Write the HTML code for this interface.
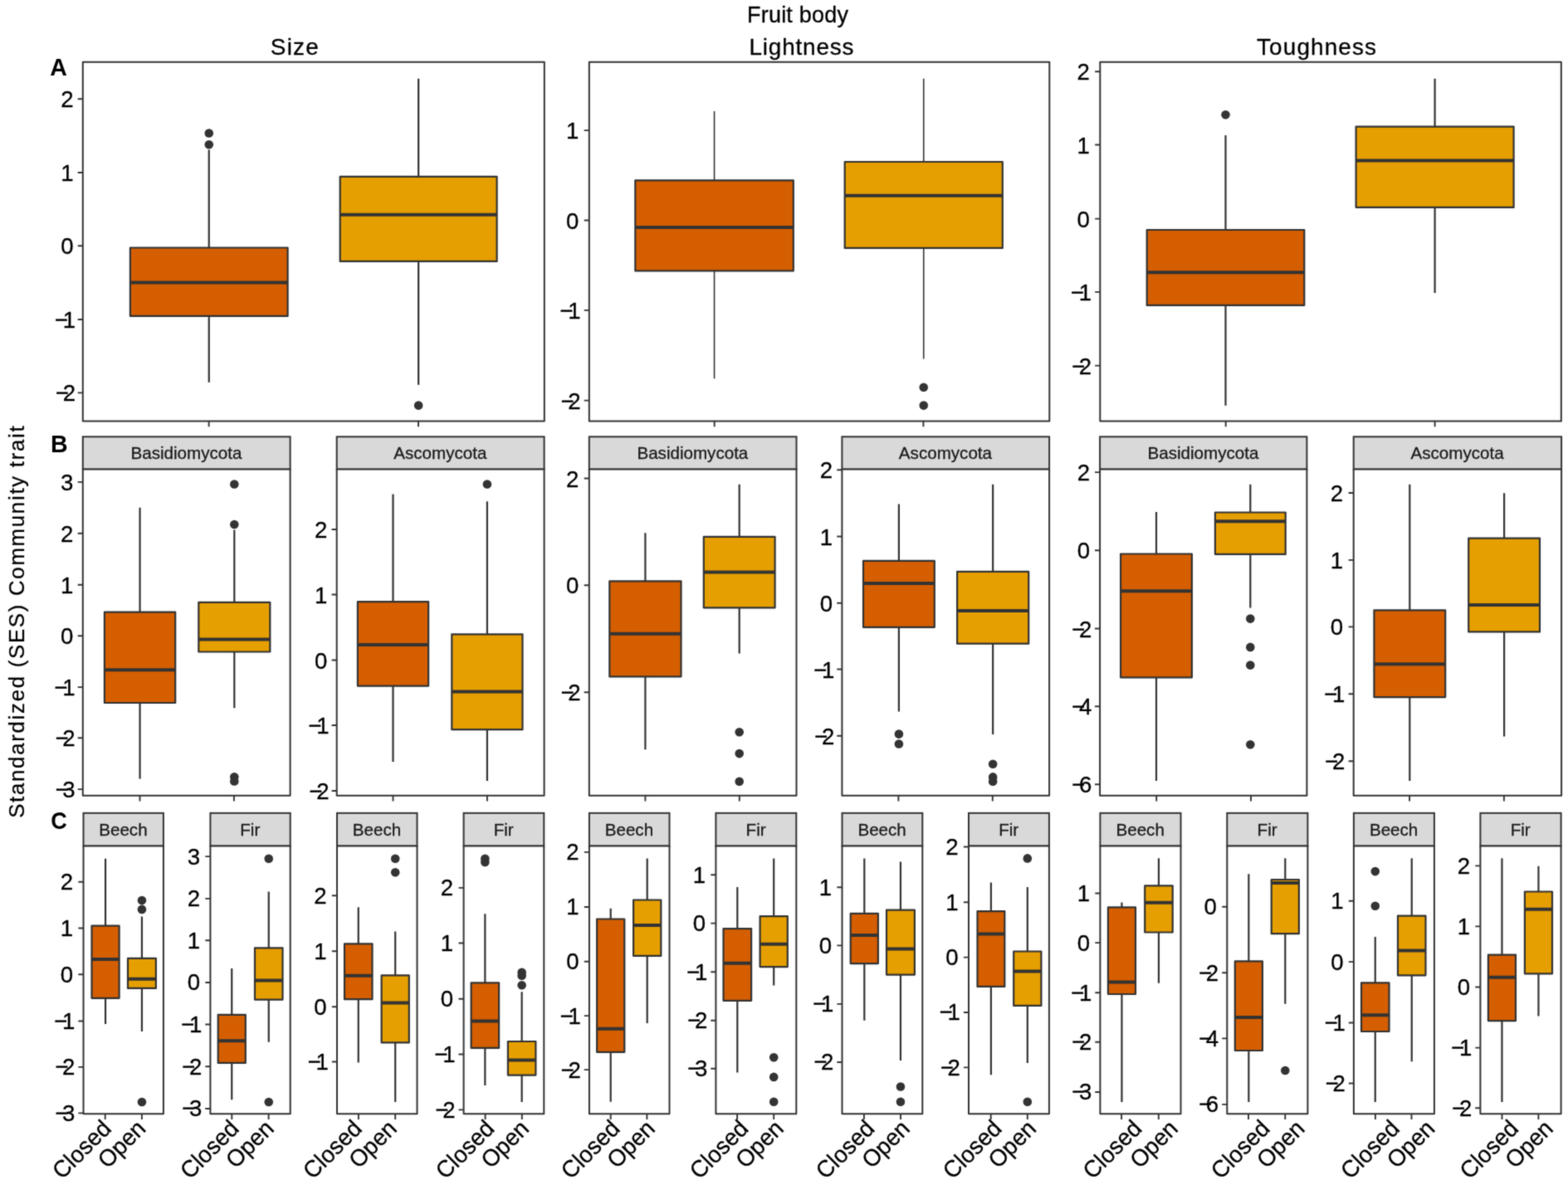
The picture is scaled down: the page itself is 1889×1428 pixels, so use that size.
<!DOCTYPE html>
<html lang="en">
<head>
<meta charset="utf-8">
<title>Fruit body traits: Size, Lightness, Toughness</title>
<style>
html,body{margin:0;padding:0;background:#fff;}
body{width:1889px;height:1428px;overflow:hidden;}
svg{display:block;font-family:'Liberation Sans', 'Arial', 'Helvetica', sans-serif;}
</style>
</head>
<body>
<svg width="1889" height="1428" viewBox="0 0 1889 1428" role="img" aria-label="Boxplots of standardized community traits">
<defs>
<filter id="soft" x="0" y="0" width="1889" height="1428" filterUnits="userSpaceOnUse" color-interpolation-filters="sRGB">
<feConvolveMatrix order="3" kernelMatrix="1 4 1 4 16 4 1 4 1" divisor="36" bias="0" edgeMode="duplicate" preserveAlpha="true"/>
</filter>
</defs>
<g filter="url(#soft)">
<rect x="0" y="0" width="1889" height="1428" fill="#fff"/>
<g transform="translate(0.3 0.5)">
<g>
<rect x="99.5" y="74.2" width="556" height="432.8" fill="#fff" stroke="none"/>
<path d="M251.45 180V298M251.45 380.4V460.2" stroke="#333333" stroke-width="2.2" fill="none"/>
<rect x="156.6" y="298" width="189.7" height="82.4" fill="#D55E00" stroke="#333333" stroke-width="2.2" stroke-linejoin="round"/>
<path d="M156.6 340H346.3" stroke="#333333" stroke-width="4" fill="none"/>
<circle cx="251.45" cy="160" r="5.3" fill="#333333"/>
<circle cx="251.45" cy="173.7" r="5.3" fill="#333333"/>
<path d="M503.85 94.3V212.3M503.85 314.4V463.2" stroke="#333333" stroke-width="2.2" fill="none"/>
<rect x="409.4" y="212.3" width="188.9" height="102.1" fill="#E69F00" stroke="#333333" stroke-width="2.2" stroke-linejoin="round"/>
<path d="M409.4 258.3H598.3" stroke="#333333" stroke-width="4" fill="none"/>
<circle cx="503.85" cy="488.1" r="5.3" fill="#333333"/>
<rect x="99.5" y="74.2" width="556" height="432.8" fill="none" stroke="#333333" stroke-width="2" stroke-linejoin="round"/>
<path d="M93.4 118.8H99.5M93.4 207.5H99.5M93.4 295.8H99.5M93.4 384.5H99.5M93.4 472.9H99.5M251.3 507V513.8M503.7 507V513.8" stroke="#333333" stroke-width="1.9" fill="none"/>
<text transform="translate(88.4 128.83) scale(1 1.03)" font-size="27.6" text-anchor="end" fill="#000" stroke="#000" stroke-width="0.3">2</text>
<text transform="translate(88.4 217.53) scale(1 1.03)" font-size="27.6" text-anchor="end" fill="#000" stroke="#000" stroke-width="0.3">1</text>
<text transform="translate(88.4 305.83) scale(1 1.03)" font-size="27.6" text-anchor="end" fill="#000" stroke="#000" stroke-width="0.3">0</text>
<text transform="translate(90.7 394.53) scale(1 1.03)" font-size="27.6" text-anchor="end" fill="#000" stroke="#000" stroke-width="0.3">−<tspan dx="-6.35">1</tspan></text>
<text transform="translate(90.7 482.93) scale(1 1.03)" font-size="27.6" text-anchor="end" fill="#000" stroke="#000" stroke-width="0.3">−<tspan dx="-7.45">2</tspan></text>
</g>
<g>
<rect x="709.5" y="74.2" width="554.5" height="432.8" fill="#fff" stroke="none"/>
<path d="M860.25 133.6V216.8M860.25 325.9V455.8" stroke="#333333" stroke-width="1.6" fill="none"/>
<rect x="765" y="216.8" width="190.5" height="109.1" fill="#D55E00" stroke="#333333" stroke-width="2.2" stroke-linejoin="round"/>
<path d="M765 273.5H955.5" stroke="#333333" stroke-width="4" fill="none"/>
<path d="M1112.45 94.3V194.5M1112.45 298.4V432" stroke="#333333" stroke-width="1.6" fill="none"/>
<rect x="1017.4" y="194.5" width="190.1" height="103.9" fill="#E69F00" stroke="#333333" stroke-width="2.2" stroke-linejoin="round"/>
<path d="M1017.4 235.3H1207.5" stroke="#333333" stroke-width="4" fill="none"/>
<circle cx="1112.45" cy="466.2" r="5.3" fill="#333333"/>
<circle cx="1112.45" cy="488.1" r="5.3" fill="#333333"/>
<rect x="709.5" y="74.2" width="554.5" height="432.8" fill="none" stroke="#333333" stroke-width="2" stroke-linejoin="round"/>
<path d="M703.4 156.6H709.5M703.4 265H709.5M703.4 373.4H709.5M703.4 482.1H709.5M860.4 507V513.8M1112.1 507V513.8" stroke="#333333" stroke-width="1.9" fill="none"/>
<text transform="translate(697.1 166.63) scale(1 1.03)" font-size="27.6" text-anchor="end" fill="#000" stroke="#000" stroke-width="0.3">1</text>
<text transform="translate(697.1 275.03) scale(1 1.03)" font-size="27.6" text-anchor="end" fill="#000" stroke="#000" stroke-width="0.3">0</text>
<text transform="translate(699.4 383.43) scale(1 1.03)" font-size="27.6" text-anchor="end" fill="#000" stroke="#000" stroke-width="0.3">−<tspan dx="-6.35">1</tspan></text>
<text transform="translate(699.4 492.13) scale(1 1.03)" font-size="27.6" text-anchor="end" fill="#000" stroke="#000" stroke-width="0.3">−<tspan dx="-7.45">2</tspan></text>
</g>
<g>
<rect x="1325" y="74.2" width="555.5" height="432.8" fill="#fff" stroke="none"/>
<path d="M1476.2 162.5V276.5M1476.2 367.4V488.3" stroke="#333333" stroke-width="2.2" fill="none"/>
<rect x="1381.4" y="276.5" width="189.6" height="90.9" fill="#D55E00" stroke="#333333" stroke-width="2.2" stroke-linejoin="round"/>
<path d="M1381.4 327.7H1571" stroke="#333333" stroke-width="4" fill="none"/>
<circle cx="1476.2" cy="137.7" r="5.3" fill="#333333"/>
<path d="M1728.3 94.3V152.1M1728.3 249.4V352.5" stroke="#333333" stroke-width="2.2" fill="none"/>
<rect x="1633.3" y="152.1" width="190" height="97.3" fill="#E69F00" stroke="#333333" stroke-width="2.2" stroke-linejoin="round"/>
<path d="M1633.3 193H1823.3" stroke="#333333" stroke-width="4" fill="none"/>
<rect x="1325" y="74.2" width="555.5" height="432.8" fill="none" stroke="#333333" stroke-width="2" stroke-linejoin="round"/>
<path d="M1318.9 85.7H1325M1318.9 174H1325M1318.9 263.1H1325M1318.9 351.4H1325M1318.9 440.1H1325M1476.4 507V513.8M1728.3 507V513.8" stroke="#333333" stroke-width="1.9" fill="none"/>
<text transform="translate(1312.6 95.73) scale(1 1.03)" font-size="27.6" text-anchor="end" fill="#000" stroke="#000" stroke-width="0.3">2</text>
<text transform="translate(1312.6 184.03) scale(1 1.03)" font-size="27.6" text-anchor="end" fill="#000" stroke="#000" stroke-width="0.3">1</text>
<text transform="translate(1312.6 273.13) scale(1 1.03)" font-size="27.6" text-anchor="end" fill="#000" stroke="#000" stroke-width="0.3">0</text>
<text transform="translate(1314.9 361.43) scale(1 1.03)" font-size="27.6" text-anchor="end" fill="#000" stroke="#000" stroke-width="0.3">−<tspan dx="-6.35">1</tspan></text>
<text transform="translate(1314.9 450.13) scale(1 1.03)" font-size="27.6" text-anchor="end" fill="#000" stroke="#000" stroke-width="0.3">−<tspan dx="-7.45">2</tspan></text>
</g>
<g>
<rect x="99.5" y="525.8" width="249.8" height="39.2" fill="#D9D9D9" stroke="#333333" stroke-width="2"/>
<text transform="translate(224.1 552.82)" font-size="20.6" text-anchor="middle" fill="#1A1A1A" stroke="#1A1A1A" stroke-width="0.3">Basidiomycota</text>
<rect x="99.5" y="565" width="249.8" height="393.2" fill="#fff" stroke="none"/>
<path d="M168.25 611.2V737.2M168.25 846.5V938" stroke="#333333" stroke-width="2.2" fill="none"/>
<rect x="125.6" y="737.2" width="85.3" height="109.3" fill="#D55E00" stroke="#333333" stroke-width="2.2" stroke-linejoin="round"/>
<path d="M125.6 806.8H210.9" stroke="#333333" stroke-width="4" fill="none"/>
<path d="M282 638V725.3M282 785V852.8" stroke="#333333" stroke-width="2.2" fill="none"/>
<rect x="239" y="725.3" width="86" height="59.7" fill="#E69F00" stroke="#333333" stroke-width="2.2" stroke-linejoin="round"/>
<path d="M239 770.1H325" stroke="#333333" stroke-width="4" fill="none"/>
<circle cx="282" cy="583" r="5.3" fill="#333333"/>
<circle cx="282" cy="631.5" r="5.3" fill="#333333"/>
<circle cx="282" cy="935.8" r="5.3" fill="#333333"/>
<circle cx="282" cy="941" r="5.3" fill="#333333"/>
<rect x="99.5" y="565" width="249.8" height="393.2" fill="none" stroke="#333333" stroke-width="2" stroke-linejoin="round"/>
<path d="M93.4 580.4H99.5M93.4 642.3H99.5M93.4 704.2H99.5M93.4 765.7H99.5M93.4 827.6H99.5M93.4 888.7H99.5M93.4 950.6H99.5M168.2 958.2V965M281.6 958.2V965" stroke="#333333" stroke-width="1.9" fill="none"/>
<text transform="translate(88.1 590.43) scale(1 1.03)" font-size="27.6" text-anchor="end" fill="#000" stroke="#000" stroke-width="0.3">3</text>
<text transform="translate(88.1 652.33) scale(1 1.03)" font-size="27.6" text-anchor="end" fill="#000" stroke="#000" stroke-width="0.3">2</text>
<text transform="translate(88.1 714.23) scale(1 1.03)" font-size="27.6" text-anchor="end" fill="#000" stroke="#000" stroke-width="0.3">1</text>
<text transform="translate(88.1 775.73) scale(1 1.03)" font-size="27.6" text-anchor="end" fill="#000" stroke="#000" stroke-width="0.3">0</text>
<text transform="translate(90.4 837.63) scale(1 1.03)" font-size="27.6" text-anchor="end" fill="#000" stroke="#000" stroke-width="0.3">−<tspan dx="-6.35">1</tspan></text>
<text transform="translate(90.4 898.73) scale(1 1.03)" font-size="27.6" text-anchor="end" fill="#000" stroke="#000" stroke-width="0.3">−<tspan dx="-7.45">2</tspan></text>
<text transform="translate(90.4 960.63) scale(1 1.03)" font-size="27.6" text-anchor="end" fill="#000" stroke="#000" stroke-width="0.3">−<tspan dx="-7.45">3</tspan></text>
</g>
<g>
<rect x="405.4" y="525.8" width="249.9" height="39.2" fill="#D9D9D9" stroke="#333333" stroke-width="2"/>
<text transform="translate(530.05 552.82)" font-size="20.6" text-anchor="middle" fill="#1A1A1A" stroke="#1A1A1A" stroke-width="0.3">Ascomycota</text>
<rect x="405.4" y="565" width="249.9" height="393.2" fill="#fff" stroke="none"/>
<path d="M473.2 594.9V724.6M473.2 826.1V917.6" stroke="#333333" stroke-width="2.2" fill="none"/>
<rect x="430.6" y="724.6" width="85.2" height="101.5" fill="#D55E00" stroke="#333333" stroke-width="2.2" stroke-linejoin="round"/>
<path d="M430.6 776.4H515.8" stroke="#333333" stroke-width="4" fill="none"/>
<path d="M586.6 603.8V763.8M586.6 878.7V940.6" stroke="#333333" stroke-width="2.2" fill="none"/>
<rect x="544" y="763.8" width="85.2" height="114.9" fill="#E69F00" stroke="#333333" stroke-width="2.2" stroke-linejoin="round"/>
<path d="M544 833.1H629.2" stroke="#333333" stroke-width="4" fill="none"/>
<circle cx="586.6" cy="583" r="5.3" fill="#333333"/>
<rect x="405.4" y="565" width="249.9" height="393.2" fill="none" stroke="#333333" stroke-width="2" stroke-linejoin="round"/>
<path d="M399.3 637.5H405.4M399.3 716H405.4M399.3 795H405.4M399.3 873.5H405.4M399.3 952.5H405.4M473.2 958.2V965M586.6 958.2V965" stroke="#333333" stroke-width="1.9" fill="none"/>
<text transform="translate(394 647.53) scale(1 1.03)" font-size="27.6" text-anchor="end" fill="#000" stroke="#000" stroke-width="0.3">2</text>
<text transform="translate(394 726.03) scale(1 1.03)" font-size="27.6" text-anchor="end" fill="#000" stroke="#000" stroke-width="0.3">1</text>
<text transform="translate(394 805.03) scale(1 1.03)" font-size="27.6" text-anchor="end" fill="#000" stroke="#000" stroke-width="0.3">0</text>
<text transform="translate(396.3 883.53) scale(1 1.03)" font-size="27.6" text-anchor="end" fill="#000" stroke="#000" stroke-width="0.3">−<tspan dx="-6.35">1</tspan></text>
<text transform="translate(396.3 962.53) scale(1 1.03)" font-size="27.6" text-anchor="end" fill="#000" stroke="#000" stroke-width="0.3">−<tspan dx="-7.45">2</tspan></text>
</g>
<g>
<rect x="709.5" y="525.8" width="249.7" height="39.2" fill="#D9D9D9" stroke="#333333" stroke-width="2"/>
<text transform="translate(834.05 552.82)" font-size="20.6" text-anchor="middle" fill="#1A1A1A" stroke="#1A1A1A" stroke-width="0.3">Basidiomycota</text>
<rect x="709.5" y="565" width="249.7" height="393.2" fill="#fff" stroke="none"/>
<path d="M777.1 641.8V699.9M777.1 814.8V902.7" stroke="#333333" stroke-width="2.2" fill="none"/>
<rect x="734" y="699.9" width="86.2" height="114.9" fill="#D55E00" stroke="#333333" stroke-width="2.2" stroke-linejoin="round"/>
<path d="M734 763.3H820.2" stroke="#333333" stroke-width="4" fill="none"/>
<path d="M890.4 583.3V646.4M890.4 731.8V787.1" stroke="#333333" stroke-width="2.2" fill="none"/>
<rect x="847.5" y="646.4" width="85.8" height="85.4" fill="#E69F00" stroke="#333333" stroke-width="2.2" stroke-linejoin="round"/>
<path d="M847.5 689.1H933.3" stroke="#333333" stroke-width="4" fill="none"/>
<circle cx="890.4" cy="881.7" r="5.3" fill="#333333"/>
<circle cx="890.4" cy="907.6" r="5.3" fill="#333333"/>
<circle cx="890.4" cy="941.2" r="5.3" fill="#333333"/>
<rect x="709.5" y="565" width="249.7" height="393.2" fill="none" stroke="#333333" stroke-width="2" stroke-linejoin="round"/>
<path d="M703.4 576H709.5M703.4 704.8H709.5M703.4 833.7H709.5M777.1 958.2V965M890.5 958.2V965" stroke="#333333" stroke-width="1.9" fill="none"/>
<text transform="translate(697.1 586.03) scale(1 1.03)" font-size="27.6" text-anchor="end" fill="#000" stroke="#000" stroke-width="0.3">2</text>
<text transform="translate(697.1 714.83) scale(1 1.03)" font-size="27.6" text-anchor="end" fill="#000" stroke="#000" stroke-width="0.3">0</text>
<text transform="translate(699.4 843.73) scale(1 1.03)" font-size="27.6" text-anchor="end" fill="#000" stroke="#000" stroke-width="0.3">−<tspan dx="-7.45">2</tspan></text>
</g>
<g>
<rect x="1014.1" y="525.8" width="249.7" height="39.2" fill="#D9D9D9" stroke="#333333" stroke-width="2"/>
<text transform="translate(1138.65 552.82)" font-size="20.6" text-anchor="middle" fill="#1A1A1A" stroke="#1A1A1A" stroke-width="0.3">Ascomycota</text>
<rect x="1014.1" y="565" width="249.7" height="393.2" fill="#fff" stroke="none"/>
<path d="M1082.6 607.1V675.4M1082.6 755.3V857.1" stroke="#333333" stroke-width="2.2" fill="none"/>
<rect x="1039.7" y="675.4" width="85.8" height="79.9" fill="#D55E00" stroke="#333333" stroke-width="2.2" stroke-linejoin="round"/>
<path d="M1039.7 702.4H1125.5" stroke="#333333" stroke-width="4" fill="none"/>
<circle cx="1082.6" cy="884.1" r="5.3" fill="#333333"/>
<circle cx="1082.6" cy="896" r="5.3" fill="#333333"/>
<path d="M1195.85 583.3V688.4M1195.85 775.2V884.5" stroke="#333333" stroke-width="2.2" fill="none"/>
<rect x="1152.8" y="688.4" width="86.1" height="86.8" fill="#E69F00" stroke="#333333" stroke-width="2.2" stroke-linejoin="round"/>
<path d="M1152.8 735.6H1238.9" stroke="#333333" stroke-width="4" fill="none"/>
<circle cx="1195.85" cy="920.2" r="5.3" fill="#333333"/>
<circle cx="1195.85" cy="935.9" r="5.3" fill="#333333"/>
<circle cx="1195.85" cy="941.2" r="5.3" fill="#333333"/>
<rect x="1014.1" y="565" width="249.7" height="393.2" fill="none" stroke="#333333" stroke-width="2" stroke-linejoin="round"/>
<path d="M1008 565.8H1014.1M1008 646H1014.1M1008 726.2H1014.1M1008 806H1014.1M1008 886.2H1014.1M1082.1 958.2V965M1195.5 958.2V965" stroke="#333333" stroke-width="1.9" fill="none"/>
<text transform="translate(1002.7 575.83) scale(1 1.03)" font-size="27.6" text-anchor="end" fill="#000" stroke="#000" stroke-width="0.3">2</text>
<text transform="translate(1002.7 656.03) scale(1 1.03)" font-size="27.6" text-anchor="end" fill="#000" stroke="#000" stroke-width="0.3">1</text>
<text transform="translate(1002.7 736.23) scale(1 1.03)" font-size="27.6" text-anchor="end" fill="#000" stroke="#000" stroke-width="0.3">0</text>
<text transform="translate(1005 816.03) scale(1 1.03)" font-size="27.6" text-anchor="end" fill="#000" stroke="#000" stroke-width="0.3">−<tspan dx="-6.35">1</tspan></text>
<text transform="translate(1005 896.23) scale(1 1.03)" font-size="27.6" text-anchor="end" fill="#000" stroke="#000" stroke-width="0.3">−<tspan dx="-7.45">2</tspan></text>
</g>
<g>
<rect x="1324.8" y="525.8" width="249.3" height="39.2" fill="#D9D9D9" stroke="#333333" stroke-width="2"/>
<text transform="translate(1449.15 552.82)" font-size="20.6" text-anchor="middle" fill="#1A1A1A" stroke="#1A1A1A" stroke-width="0.3">Basidiomycota</text>
<rect x="1324.8" y="565" width="249.3" height="393.2" fill="#fff" stroke="none"/>
<path d="M1392.7 616.6V667M1392.7 815.8V940.5" stroke="#333333" stroke-width="2.2" fill="none"/>
<rect x="1349.8" y="667" width="85.8" height="148.8" fill="#D55E00" stroke="#333333" stroke-width="2.2" stroke-linejoin="round"/>
<path d="M1349.8 711.8H1435.6" stroke="#333333" stroke-width="4" fill="none"/>
<path d="M1506 583.3V617M1506 667.4V732.1" stroke="#333333" stroke-width="2.2" fill="none"/>
<rect x="1463.6" y="617" width="84.8" height="50.4" fill="#E69F00" stroke="#333333" stroke-width="2.2" stroke-linejoin="round"/>
<path d="M1463.6 627.8H1548.4" stroke="#333333" stroke-width="4" fill="none"/>
<circle cx="1506" cy="745.1" r="5.3" fill="#333333"/>
<circle cx="1506" cy="779.4" r="5.3" fill="#333333"/>
<circle cx="1506" cy="801.1" r="5.3" fill="#333333"/>
<circle cx="1506" cy="896.7" r="5.3" fill="#333333"/>
<rect x="1324.8" y="565" width="249.3" height="393.2" fill="none" stroke="#333333" stroke-width="2" stroke-linejoin="round"/>
<path d="M1318.7 568.6H1324.8M1318.7 662.8H1324.8M1318.7 757H1324.8M1318.7 850.8H1324.8M1318.7 944.7H1324.8M1392.9 958.2V965M1506.7 958.2V965" stroke="#333333" stroke-width="1.9" fill="none"/>
<text transform="translate(1312.7 578.63) scale(1 1.03)" font-size="27.6" text-anchor="end" fill="#000" stroke="#000" stroke-width="0.3">2</text>
<text transform="translate(1312.7 672.83) scale(1 1.03)" font-size="27.6" text-anchor="end" fill="#000" stroke="#000" stroke-width="0.3">0</text>
<text transform="translate(1315 767.03) scale(1 1.03)" font-size="27.6" text-anchor="end" fill="#000" stroke="#000" stroke-width="0.3">−<tspan dx="-7.45">2</tspan></text>
<text transform="translate(1315 860.83) scale(1 1.03)" font-size="27.6" text-anchor="end" fill="#000" stroke="#000" stroke-width="0.3">−<tspan dx="-7.45">4</tspan></text>
<text transform="translate(1315 954.73) scale(1 1.03)" font-size="27.6" text-anchor="end" fill="#000" stroke="#000" stroke-width="0.3">−<tspan dx="-7.45">6</tspan></text>
</g>
<g>
<rect x="1630.4" y="525.8" width="250.4" height="39.2" fill="#D9D9D9" stroke="#333333" stroke-width="2"/>
<text transform="translate(1755.3 552.82)" font-size="20.6" text-anchor="middle" fill="#1A1A1A" stroke="#1A1A1A" stroke-width="0.3">Ascomycota</text>
<rect x="1630.4" y="565" width="250.4" height="393.2" fill="#fff" stroke="none"/>
<path d="M1698 583.3V734.9M1698 839.6V940.5" stroke="#333333" stroke-width="2.2" fill="none"/>
<rect x="1655.1" y="734.9" width="85.8" height="104.7" fill="#D55E00" stroke="#333333" stroke-width="2.2" stroke-linejoin="round"/>
<path d="M1655.1 799.7H1740.9" stroke="#333333" stroke-width="4" fill="none"/>
<path d="M1811.8 593.8V648.1M1811.8 760.9V886.9" stroke="#333333" stroke-width="2.2" fill="none"/>
<rect x="1768.9" y="648.1" width="85.8" height="112.8" fill="#E69F00" stroke="#333333" stroke-width="2.2" stroke-linejoin="round"/>
<path d="M1768.9 728.6H1854.7" stroke="#333333" stroke-width="4" fill="none"/>
<rect x="1630.4" y="565" width="250.4" height="393.2" fill="none" stroke="#333333" stroke-width="2" stroke-linejoin="round"/>
<path d="M1624.3 593.5H1630.4M1624.3 674.4H1630.4M1624.3 754.9H1630.4M1624.3 835.8H1630.4M1624.3 916.7H1630.4M1697.8 958.2V965M1811.6 958.2V965" stroke="#333333" stroke-width="1.9" fill="none"/>
<text transform="translate(1617.7 603.53) scale(1 1.03)" font-size="27.6" text-anchor="end" fill="#000" stroke="#000" stroke-width="0.3">2</text>
<text transform="translate(1617.7 684.43) scale(1 1.03)" font-size="27.6" text-anchor="end" fill="#000" stroke="#000" stroke-width="0.3">1</text>
<text transform="translate(1617.7 764.93) scale(1 1.03)" font-size="27.6" text-anchor="end" fill="#000" stroke="#000" stroke-width="0.3">0</text>
<text transform="translate(1620 845.83) scale(1 1.03)" font-size="27.6" text-anchor="end" fill="#000" stroke="#000" stroke-width="0.3">−<tspan dx="-6.35">1</tspan></text>
<text transform="translate(1620 926.73) scale(1 1.03)" font-size="27.6" text-anchor="end" fill="#000" stroke="#000" stroke-width="0.3">−<tspan dx="-7.45">2</tspan></text>
</g>
<g>
<rect x="100.2" y="979.3" width="96.4" height="39.7" fill="#D9D9D9" stroke="#333333" stroke-width="2"/>
<text transform="translate(148.1 1006.57)" font-size="20.6" text-anchor="middle" fill="#1A1A1A" stroke="#1A1A1A" stroke-width="0.3">Beech</text>
<rect x="100.2" y="1019" width="96.4" height="322.7" fill="#fff" stroke="none"/>
<path d="M126.75 1034.2V1115.2M126.75 1202.3V1233.6" stroke="#333333" stroke-width="2.2" fill="none"/>
<rect x="110.2" y="1115.2" width="33.1" height="87.1" fill="#D55E00" stroke="#333333" stroke-width="2.2" stroke-linejoin="round"/>
<path d="M110.2 1155.5H143.3" stroke="#333333" stroke-width="4" fill="none"/>
<path d="M170.65 1104V1154.4M170.65 1190.4V1242.6" stroke="#333333" stroke-width="2.2" fill="none"/>
<rect x="153.7" y="1154.4" width="33.9" height="36" fill="#E69F00" stroke="#333333" stroke-width="2.2" stroke-linejoin="round"/>
<path d="M153.7 1179.2H187.6" stroke="#333333" stroke-width="4" fill="none"/>
<circle cx="170.65" cy="1084.6" r="5.3" fill="#333333"/>
<circle cx="170.65" cy="1095.4" r="5.3" fill="#333333"/>
<circle cx="170.65" cy="1327.5" r="5.3" fill="#333333"/>
<rect x="100.2" y="1019" width="96.4" height="322.7" fill="none" stroke="#333333" stroke-width="2" stroke-linejoin="round"/>
<path d="M94.1 1062.2H100.2M94.1 1118H100.2M94.1 1173.8H100.2M94.1 1230H100.2M94.1 1285.4H100.2M94.1 1340.9H100.2M126.4 1341.7V1348.5M170.6 1341.7V1348.5" stroke="#333333" stroke-width="1.9" fill="none"/>
<text transform="translate(87.8 1071.63) scale(1 1.03)" font-size="27.6" text-anchor="end" fill="#000" stroke="#000" stroke-width="0.3">2</text>
<text transform="translate(87.8 1127.43) scale(1 1.03)" font-size="27.6" text-anchor="end" fill="#000" stroke="#000" stroke-width="0.3">1</text>
<text transform="translate(87.8 1183.23) scale(1 1.03)" font-size="27.6" text-anchor="end" fill="#000" stroke="#000" stroke-width="0.3">0</text>
<text transform="translate(90.1 1239.43) scale(1 1.03)" font-size="27.6" text-anchor="end" fill="#000" stroke="#000" stroke-width="0.3">−<tspan dx="-6.35">1</tspan></text>
<text transform="translate(90.1 1294.83) scale(1 1.03)" font-size="27.6" text-anchor="end" fill="#000" stroke="#000" stroke-width="0.3">−<tspan dx="-7.45">2</tspan></text>
<text transform="translate(90.1 1350.33) scale(1 1.03)" font-size="27.6" text-anchor="end" fill="#000" stroke="#000" stroke-width="0.3">−<tspan dx="-7.45">3</tspan></text>
<text transform="translate(135.2 1361.1) rotate(-45) scale(1 1.03)" font-size="27.6" text-anchor="end" fill="#000" stroke="#000" stroke-width="0.3">Closed</text>
<text transform="translate(176.9 1361.1) rotate(-45) scale(1 1.03)" font-size="27.6" text-anchor="end" fill="#000" stroke="#000" stroke-width="0.3">Open</text>
</g>
<g>
<rect x="253.1" y="979.3" width="96.3" height="39.7" fill="#D9D9D9" stroke="#333333" stroke-width="2"/>
<text transform="translate(300.95 1006.57)" font-size="20.6" text-anchor="middle" fill="#1A1A1A" stroke="#1A1A1A" stroke-width="0.3">Fir</text>
<rect x="253.1" y="1019" width="96.3" height="322.7" fill="#fff" stroke="none"/>
<path d="M278.95 1166.6V1222.4M278.95 1280.4V1324.7" stroke="#333333" stroke-width="2.2" fill="none"/>
<rect x="262.4" y="1222.4" width="33.1" height="58" fill="#D55E00" stroke="#333333" stroke-width="2.2" stroke-linejoin="round"/>
<path d="M262.4 1253.7H295.5" stroke="#333333" stroke-width="4" fill="none"/>
<path d="M323.45 1074.1V1141.8M323.45 1204.1V1255.2" stroke="#333333" stroke-width="2.2" fill="none"/>
<rect x="306.7" y="1141.8" width="33.5" height="62.3" fill="#E69F00" stroke="#333333" stroke-width="2.2" stroke-linejoin="round"/>
<path d="M306.7 1181H340.2" stroke="#333333" stroke-width="4" fill="none"/>
<circle cx="323.45" cy="1034.2" r="5.3" fill="#333333"/>
<circle cx="323.45" cy="1327.5" r="5.3" fill="#333333"/>
<rect x="253.1" y="1019" width="96.3" height="322.7" fill="none" stroke="#333333" stroke-width="2" stroke-linejoin="round"/>
<path d="M247 1031.6H253.1M247 1082.4H253.1M247 1132.8H253.1M247 1183.5H253.1M247 1234H253.1M247 1284.7H253.1M247 1335.5H253.1M279 1341.7V1348.5M323.3 1341.7V1348.5" stroke="#333333" stroke-width="1.9" fill="none"/>
<text transform="translate(240.7 1041.03) scale(1 1.03)" font-size="27.6" text-anchor="end" fill="#000" stroke="#000" stroke-width="0.3">3</text>
<text transform="translate(240.7 1091.83) scale(1 1.03)" font-size="27.6" text-anchor="end" fill="#000" stroke="#000" stroke-width="0.3">2</text>
<text transform="translate(240.7 1142.23) scale(1 1.03)" font-size="27.6" text-anchor="end" fill="#000" stroke="#000" stroke-width="0.3">1</text>
<text transform="translate(240.7 1192.93) scale(1 1.03)" font-size="27.6" text-anchor="end" fill="#000" stroke="#000" stroke-width="0.3">0</text>
<text transform="translate(243 1243.43) scale(1 1.03)" font-size="27.6" text-anchor="end" fill="#000" stroke="#000" stroke-width="0.3">−<tspan dx="-6.35">1</tspan></text>
<text transform="translate(243 1294.13) scale(1 1.03)" font-size="27.6" text-anchor="end" fill="#000" stroke="#000" stroke-width="0.3">−<tspan dx="-7.45">2</tspan></text>
<text transform="translate(243 1344.93) scale(1 1.03)" font-size="27.6" text-anchor="end" fill="#000" stroke="#000" stroke-width="0.3">−<tspan dx="-7.45">3</tspan></text>
<text transform="translate(289.1 1361.1) rotate(-45) scale(1 1.03)" font-size="27.6" text-anchor="end" fill="#000" stroke="#000" stroke-width="0.3">Closed</text>
<text transform="translate(331.2 1361.1) rotate(-45) scale(1 1.03)" font-size="27.6" text-anchor="end" fill="#000" stroke="#000" stroke-width="0.3">Open</text>
</g>
<g>
<rect x="405.7" y="979.3" width="96.5" height="39.7" fill="#D9D9D9" stroke="#333333" stroke-width="2"/>
<text transform="translate(453.65 1006.57)" font-size="20.6" text-anchor="middle" fill="#1A1A1A" stroke="#1A1A1A" stroke-width="0.3">Beech</text>
<rect x="405.7" y="1019" width="96.5" height="322.7" fill="#fff" stroke="none"/>
<path d="M431.45 1092.8V1136.8M431.45 1203.7V1280" stroke="#333333" stroke-width="2.2" fill="none"/>
<rect x="414.7" y="1136.8" width="33.5" height="66.9" fill="#D55E00" stroke="#333333" stroke-width="2.2" stroke-linejoin="round"/>
<path d="M414.7 1175.3H448.2" stroke="#333333" stroke-width="4" fill="none"/>
<path d="M475.9 1122V1174.9M475.9 1255.9V1327.5" stroke="#333333" stroke-width="2.2" fill="none"/>
<rect x="459.3" y="1174.9" width="33.2" height="81" fill="#E69F00" stroke="#333333" stroke-width="2.2" stroke-linejoin="round"/>
<path d="M459.3 1208H492.5" stroke="#333333" stroke-width="4" fill="none"/>
<circle cx="475.9" cy="1034.2" r="5.3" fill="#333333"/>
<circle cx="475.9" cy="1050.7" r="5.3" fill="#333333"/>
<rect x="405.7" y="1019" width="96.5" height="322.7" fill="none" stroke="#333333" stroke-width="2" stroke-linejoin="round"/>
<path d="M399.6 1078.8H405.7M399.6 1145.8H405.7M399.6 1212.7H405.7M399.6 1279H405.7M431.6 1341.7V1348.5M475.9 1341.7V1348.5" stroke="#333333" stroke-width="1.9" fill="none"/>
<text transform="translate(393.3 1088.23) scale(1 1.03)" font-size="27.6" text-anchor="end" fill="#000" stroke="#000" stroke-width="0.3">2</text>
<text transform="translate(393.3 1155.23) scale(1 1.03)" font-size="27.6" text-anchor="end" fill="#000" stroke="#000" stroke-width="0.3">1</text>
<text transform="translate(393.3 1222.13) scale(1 1.03)" font-size="27.6" text-anchor="end" fill="#000" stroke="#000" stroke-width="0.3">0</text>
<text transform="translate(395.6 1288.43) scale(1 1.03)" font-size="27.6" text-anchor="end" fill="#000" stroke="#000" stroke-width="0.3">−<tspan dx="-6.35">1</tspan></text>
<text transform="translate(437.2 1361.1) rotate(-45) scale(1 1.03)" font-size="27.6" text-anchor="end" fill="#000" stroke="#000" stroke-width="0.3">Closed</text>
<text transform="translate(479.3 1361.1) rotate(-45) scale(1 1.03)" font-size="27.6" text-anchor="end" fill="#000" stroke="#000" stroke-width="0.3">Open</text>
</g>
<g>
<rect x="558.3" y="979.3" width="96.7" height="39.7" fill="#D9D9D9" stroke="#333333" stroke-width="2"/>
<text transform="translate(606.35 1006.57)" font-size="20.6" text-anchor="middle" fill="#1A1A1A" stroke="#1A1A1A" stroke-width="0.3">Fir</text>
<rect x="558.3" y="1019" width="96.7" height="322.7" fill="#fff" stroke="none"/>
<path d="M584.05 1100.8V1183.9M584.05 1262.4V1307.4" stroke="#333333" stroke-width="2.2" fill="none"/>
<rect x="567.3" y="1183.9" width="33.5" height="78.5" fill="#D55E00" stroke="#333333" stroke-width="2.2" stroke-linejoin="round"/>
<path d="M567.3 1230H600.8" stroke="#333333" stroke-width="4" fill="none"/>
<circle cx="584.05" cy="1034.2" r="5.3" fill="#333333"/>
<circle cx="584.05" cy="1038.5" r="5.3" fill="#333333"/>
<path d="M628.35 1194.7V1254.5M628.35 1295.1V1327.5" stroke="#333333" stroke-width="2.2" fill="none"/>
<rect x="611.6" y="1254.5" width="33.5" height="40.6" fill="#E69F00" stroke="#333333" stroke-width="2.2" stroke-linejoin="round"/>
<path d="M611.6 1277.1H645.1" stroke="#333333" stroke-width="4" fill="none"/>
<circle cx="628.35" cy="1171.3" r="5.3" fill="#333333"/>
<circle cx="628.35" cy="1175.3" r="5.3" fill="#333333"/>
<circle cx="628.35" cy="1186.8" r="5.3" fill="#333333"/>
<rect x="558.3" y="1019" width="96.7" height="322.7" fill="none" stroke="#333333" stroke-width="2" stroke-linejoin="round"/>
<path d="M552.2 1069.4H558.3M552.2 1136H558.3M552.2 1203.3H558.3M552.2 1270H558.3M552.2 1336.9H558.3M584.3 1341.7V1348.5M628.5 1341.7V1348.5" stroke="#333333" stroke-width="1.9" fill="none"/>
<text transform="translate(545.9 1078.83) scale(1 1.03)" font-size="27.6" text-anchor="end" fill="#000" stroke="#000" stroke-width="0.3">2</text>
<text transform="translate(545.9 1145.43) scale(1 1.03)" font-size="27.6" text-anchor="end" fill="#000" stroke="#000" stroke-width="0.3">1</text>
<text transform="translate(545.9 1212.73) scale(1 1.03)" font-size="27.6" text-anchor="end" fill="#000" stroke="#000" stroke-width="0.3">0</text>
<text transform="translate(548.2 1279.43) scale(1 1.03)" font-size="27.6" text-anchor="end" fill="#000" stroke="#000" stroke-width="0.3">−<tspan dx="-6.35">1</tspan></text>
<text transform="translate(548.2 1346.33) scale(1 1.03)" font-size="27.6" text-anchor="end" fill="#000" stroke="#000" stroke-width="0.3">−<tspan dx="-7.45">2</tspan></text>
<text transform="translate(596.9 1361.1) rotate(-45) scale(1 1.03)" font-size="27.6" text-anchor="end" fill="#000" stroke="#000" stroke-width="0.3">Closed</text>
<text transform="translate(638.6 1361.1) rotate(-45) scale(1 1.03)" font-size="27.6" text-anchor="end" fill="#000" stroke="#000" stroke-width="0.3">Open</text>
</g>
<g>
<rect x="709.6" y="979.3" width="96.6" height="39.7" fill="#D9D9D9" stroke="#333333" stroke-width="2"/>
<text transform="translate(757.6 1006.57)" font-size="20.6" text-anchor="middle" fill="#1A1A1A" stroke="#1A1A1A" stroke-width="0.3">Beech</text>
<rect x="709.6" y="1019" width="96.6" height="322.7" fill="#fff" stroke="none"/>
<path d="M735.4 1094.2V1107M735.4 1267.3V1327.3" stroke="#333333" stroke-width="2.2" fill="none"/>
<rect x="718.8" y="1107" width="33.2" height="160.3" fill="#D55E00" stroke="#333333" stroke-width="2.2" stroke-linejoin="round"/>
<path d="M718.8 1239.2H752" stroke="#333333" stroke-width="4" fill="none"/>
<path d="M779.4 1033.9V1084M779.4 1151.4V1232.4" stroke="#333333" stroke-width="2.2" fill="none"/>
<rect x="762.8" y="1084" width="33.2" height="67.4" fill="#E69F00" stroke="#333333" stroke-width="2.2" stroke-linejoin="round"/>
<path d="M762.8 1114.5H796" stroke="#333333" stroke-width="4" fill="none"/>
<rect x="709.6" y="1019" width="96.6" height="322.7" fill="none" stroke="#333333" stroke-width="2" stroke-linejoin="round"/>
<path d="M703.5 1026.4H709.6M703.5 1092.5H709.6M703.5 1158.2H709.6M703.5 1223.6H709.6M703.5 1288.6H709.6M735.4 1341.7V1348.5M779.1 1341.7V1348.5" stroke="#333333" stroke-width="1.9" fill="none"/>
<text transform="translate(697.2 1035.83) scale(1 1.03)" font-size="27.6" text-anchor="end" fill="#000" stroke="#000" stroke-width="0.3">2</text>
<text transform="translate(697.2 1101.93) scale(1 1.03)" font-size="27.6" text-anchor="end" fill="#000" stroke="#000" stroke-width="0.3">1</text>
<text transform="translate(697.2 1167.63) scale(1 1.03)" font-size="27.6" text-anchor="end" fill="#000" stroke="#000" stroke-width="0.3">0</text>
<text transform="translate(699.5 1233.03) scale(1 1.03)" font-size="27.6" text-anchor="end" fill="#000" stroke="#000" stroke-width="0.3">−<tspan dx="-6.35">1</tspan></text>
<text transform="translate(699.5 1298.03) scale(1 1.03)" font-size="27.6" text-anchor="end" fill="#000" stroke="#000" stroke-width="0.3">−<tspan dx="-7.45">2</tspan></text>
<text transform="translate(748 1361.1) rotate(-45) scale(1 1.03)" font-size="27.6" text-anchor="end" fill="#000" stroke="#000" stroke-width="0.3">Closed</text>
<text transform="translate(790.4 1361.1) rotate(-45) scale(1 1.03)" font-size="27.6" text-anchor="end" fill="#000" stroke="#000" stroke-width="0.3">Open</text>
</g>
<g>
<rect x="862.1" y="979.3" width="96.9" height="39.7" fill="#D9D9D9" stroke="#333333" stroke-width="2"/>
<text transform="translate(910.25 1006.57)" font-size="20.6" text-anchor="middle" fill="#1A1A1A" stroke="#1A1A1A" stroke-width="0.3">Fir</text>
<rect x="862.1" y="1019" width="96.9" height="322.7" fill="#fff" stroke="none"/>
<path d="M888 1068.4V1118.6M888 1205.3V1292" stroke="#333333" stroke-width="2.2" fill="none"/>
<rect x="871.2" y="1118.6" width="33.6" height="86.7" fill="#D55E00" stroke="#333333" stroke-width="2.2" stroke-linejoin="round"/>
<path d="M871.2 1160.2H904.8" stroke="#333333" stroke-width="4" fill="none"/>
<path d="M931.9 1033.9V1103.7M931.9 1164.6V1187" stroke="#333333" stroke-width="2.2" fill="none"/>
<rect x="915.3" y="1103.7" width="33.2" height="60.9" fill="#E69F00" stroke="#333333" stroke-width="2.2" stroke-linejoin="round"/>
<path d="M915.3 1137.2H948.5" stroke="#333333" stroke-width="4" fill="none"/>
<circle cx="931.9" cy="1273.7" r="5.3" fill="#333333"/>
<circle cx="931.9" cy="1297.4" r="5.3" fill="#333333"/>
<circle cx="931.9" cy="1327.3" r="5.3" fill="#333333"/>
<rect x="862.1" y="1019" width="96.9" height="322.7" fill="none" stroke="#333333" stroke-width="2" stroke-linejoin="round"/>
<path d="M856 1053.8H862.1M856 1112.1H862.1M856 1170.7H862.1M856 1229.3H862.1M856 1287.3H862.1M887.8 1341.7V1348.5M931.9 1341.7V1348.5" stroke="#333333" stroke-width="1.9" fill="none"/>
<text transform="translate(849.7 1063.23) scale(1 1.03)" font-size="27.6" text-anchor="end" fill="#000" stroke="#000" stroke-width="0.3">1</text>
<text transform="translate(849.7 1121.53) scale(1 1.03)" font-size="27.6" text-anchor="end" fill="#000" stroke="#000" stroke-width="0.3">0</text>
<text transform="translate(852 1180.13) scale(1 1.03)" font-size="27.6" text-anchor="end" fill="#000" stroke="#000" stroke-width="0.3">−<tspan dx="-6.35">1</tspan></text>
<text transform="translate(852 1238.73) scale(1 1.03)" font-size="27.6" text-anchor="end" fill="#000" stroke="#000" stroke-width="0.3">−<tspan dx="-7.45">2</tspan></text>
<text transform="translate(852 1296.73) scale(1 1.03)" font-size="27.6" text-anchor="end" fill="#000" stroke="#000" stroke-width="0.3">−<tspan dx="-7.45">3</tspan></text>
<text transform="translate(902.9 1361.1) rotate(-45) scale(1 1.03)" font-size="27.6" text-anchor="end" fill="#000" stroke="#000" stroke-width="0.3">Closed</text>
<text transform="translate(945.3 1361.1) rotate(-45) scale(1 1.03)" font-size="27.6" text-anchor="end" fill="#000" stroke="#000" stroke-width="0.3">Open</text>
</g>
<g>
<rect x="1014.2" y="979.3" width="96.8" height="39.7" fill="#D9D9D9" stroke="#333333" stroke-width="2"/>
<text transform="translate(1062.3 1006.57)" font-size="20.6" text-anchor="middle" fill="#1A1A1A" stroke="#1A1A1A" stroke-width="0.3">Beech</text>
<rect x="1014.2" y="1019" width="96.8" height="322.7" fill="#fff" stroke="none"/>
<path d="M1041 1033.9V1100.3M1041 1160.6V1229.3" stroke="#333333" stroke-width="2.2" fill="none"/>
<rect x="1024.4" y="1100.3" width="33.2" height="60.3" fill="#D55E00" stroke="#333333" stroke-width="2.2" stroke-linejoin="round"/>
<path d="M1024.4 1126.4H1057.6" stroke="#333333" stroke-width="4" fill="none"/>
<path d="M1084.65 1037.9V1096.2M1084.65 1174.1V1277.5" stroke="#333333" stroke-width="2.2" fill="none"/>
<rect x="1067.7" y="1096.2" width="33.9" height="77.9" fill="#E69F00" stroke="#333333" stroke-width="2.2" stroke-linejoin="round"/>
<path d="M1067.7 1143H1101.6" stroke="#333333" stroke-width="4" fill="none"/>
<circle cx="1084.65" cy="1309" r="5.3" fill="#333333"/>
<circle cx="1084.65" cy="1327.3" r="5.3" fill="#333333"/>
<rect x="1014.2" y="1019" width="96.8" height="322.7" fill="none" stroke="#333333" stroke-width="2" stroke-linejoin="round"/>
<path d="M1008.1 1068.8H1014.2M1008.1 1138.9H1014.2M1008.1 1209.4H1014.2M1008.1 1279.5H1014.2M1040.6 1341.7V1348.5M1084.7 1341.7V1348.5" stroke="#333333" stroke-width="1.9" fill="none"/>
<text transform="translate(1001.8 1078.23) scale(1 1.03)" font-size="27.6" text-anchor="end" fill="#000" stroke="#000" stroke-width="0.3">1</text>
<text transform="translate(1001.8 1148.33) scale(1 1.03)" font-size="27.6" text-anchor="end" fill="#000" stroke="#000" stroke-width="0.3">0</text>
<text transform="translate(1004.1 1218.83) scale(1 1.03)" font-size="27.6" text-anchor="end" fill="#000" stroke="#000" stroke-width="0.3">−<tspan dx="-6.35">1</tspan></text>
<text transform="translate(1004.1 1288.93) scale(1 1.03)" font-size="27.6" text-anchor="end" fill="#000" stroke="#000" stroke-width="0.3">−<tspan dx="-7.45">2</tspan></text>
<text transform="translate(1054.9 1361.1) rotate(-45) scale(1 1.03)" font-size="27.6" text-anchor="end" fill="#000" stroke="#000" stroke-width="0.3">Closed</text>
<text transform="translate(1097.3 1361.1) rotate(-45) scale(1 1.03)" font-size="27.6" text-anchor="end" fill="#000" stroke="#000" stroke-width="0.3">Open</text>
</g>
<g>
<rect x="1166.7" y="979.3" width="96.9" height="39.7" fill="#D9D9D9" stroke="#333333" stroke-width="2"/>
<text transform="translate(1214.85 1006.57)" font-size="20.6" text-anchor="middle" fill="#1A1A1A" stroke="#1A1A1A" stroke-width="0.3">Fir</text>
<rect x="1166.7" y="1019" width="96.9" height="322.7" fill="#fff" stroke="none"/>
<path d="M1193.6 1063V1097.6M1193.6 1188.4V1294.7" stroke="#333333" stroke-width="2.2" fill="none"/>
<rect x="1177.2" y="1097.6" width="32.8" height="90.8" fill="#D55E00" stroke="#333333" stroke-width="2.2" stroke-linejoin="round"/>
<path d="M1177.2 1125H1210" stroke="#333333" stroke-width="4" fill="none"/>
<path d="M1237.5 1068.4V1146M1237.5 1211.4V1280.5" stroke="#333333" stroke-width="2.2" fill="none"/>
<rect x="1220.9" y="1146" width="33.2" height="65.4" fill="#E69F00" stroke="#333333" stroke-width="2.2" stroke-linejoin="round"/>
<path d="M1220.9 1170.1H1254.1" stroke="#333333" stroke-width="4" fill="none"/>
<circle cx="1237.5" cy="1033.9" r="5.3" fill="#333333"/>
<circle cx="1237.5" cy="1327.3" r="5.3" fill="#333333"/>
<rect x="1166.7" y="1019" width="96.9" height="322.7" fill="none" stroke="#333333" stroke-width="2" stroke-linejoin="round"/>
<path d="M1160.6 1020H1166.7M1160.6 1086.7H1166.7M1160.6 1153.1H1166.7M1160.6 1219.5H1166.7M1160.6 1285.9H1166.7M1193.4 1341.7V1348.5M1237.5 1341.7V1348.5" stroke="#333333" stroke-width="1.9" fill="none"/>
<text transform="translate(1154.3 1029.43) scale(1 1.03)" font-size="27.6" text-anchor="end" fill="#000" stroke="#000" stroke-width="0.3">2</text>
<text transform="translate(1154.3 1096.13) scale(1 1.03)" font-size="27.6" text-anchor="end" fill="#000" stroke="#000" stroke-width="0.3">1</text>
<text transform="translate(1154.3 1162.53) scale(1 1.03)" font-size="27.6" text-anchor="end" fill="#000" stroke="#000" stroke-width="0.3">0</text>
<text transform="translate(1156.6 1228.93) scale(1 1.03)" font-size="27.6" text-anchor="end" fill="#000" stroke="#000" stroke-width="0.3">−<tspan dx="-6.35">1</tspan></text>
<text transform="translate(1156.6 1295.33) scale(1 1.03)" font-size="27.6" text-anchor="end" fill="#000" stroke="#000" stroke-width="0.3">−<tspan dx="-7.45">2</tspan></text>
<text transform="translate(1208 1361.1) rotate(-45) scale(1 1.03)" font-size="27.6" text-anchor="end" fill="#000" stroke="#000" stroke-width="0.3">Closed</text>
<text transform="translate(1249.6 1361.1) rotate(-45) scale(1 1.03)" font-size="27.6" text-anchor="end" fill="#000" stroke="#000" stroke-width="0.3">Open</text>
</g>
<g>
<rect x="1325.1" y="979.3" width="97.1" height="39.7" fill="#D9D9D9" stroke="#333333" stroke-width="2"/>
<text transform="translate(1373.35 1006.57)" font-size="20.6" text-anchor="middle" fill="#1A1A1A" stroke="#1A1A1A" stroke-width="0.3">Beech</text>
<rect x="1325.1" y="1019" width="97.1" height="322.7" fill="#fff" stroke="none"/>
<path d="M1351.15 1086.9V1092.9M1351.15 1197.5V1327.4" stroke="#333333" stroke-width="2.2" fill="none"/>
<rect x="1334.6" y="1092.9" width="33.1" height="104.6" fill="#D55E00" stroke="#333333" stroke-width="2.2" stroke-linejoin="round"/>
<path d="M1334.6 1182.9H1367.7" stroke="#333333" stroke-width="4" fill="none"/>
<path d="M1395.65 1033.7V1066.9M1395.65 1123V1184.3" stroke="#333333" stroke-width="2.2" fill="none"/>
<rect x="1378.9" y="1066.9" width="33.5" height="56.1" fill="#E69F00" stroke="#333333" stroke-width="2.2" stroke-linejoin="round"/>
<path d="M1378.9 1087.2H1412.4" stroke="#333333" stroke-width="4" fill="none"/>
<rect x="1325.1" y="1019" width="97.1" height="322.7" fill="none" stroke="#333333" stroke-width="2" stroke-linejoin="round"/>
<path d="M1319 1076H1325.1M1319 1135.6H1325.1M1319 1195.8H1325.1M1319 1255.3H1325.1M1319 1315.5H1325.1M1350.8 1341.7V1348.5M1395.5 1341.7V1348.5" stroke="#333333" stroke-width="1.9" fill="none"/>
<text transform="translate(1312.7 1085.43) scale(1 1.03)" font-size="27.6" text-anchor="end" fill="#000" stroke="#000" stroke-width="0.3">1</text>
<text transform="translate(1312.7 1145.03) scale(1 1.03)" font-size="27.6" text-anchor="end" fill="#000" stroke="#000" stroke-width="0.3">0</text>
<text transform="translate(1315 1205.23) scale(1 1.03)" font-size="27.6" text-anchor="end" fill="#000" stroke="#000" stroke-width="0.3">−<tspan dx="-6.35">1</tspan></text>
<text transform="translate(1315 1264.73) scale(1 1.03)" font-size="27.6" text-anchor="end" fill="#000" stroke="#000" stroke-width="0.3">−<tspan dx="-7.45">2</tspan></text>
<text transform="translate(1315 1324.93) scale(1 1.03)" font-size="27.6" text-anchor="end" fill="#000" stroke="#000" stroke-width="0.3">−<tspan dx="-7.45">3</tspan></text>
<text transform="translate(1376.7 1361.1) rotate(-45) scale(1 1.03)" font-size="27.6" text-anchor="end" fill="#000" stroke="#000" stroke-width="0.3">Closed</text>
<text transform="translate(1420.3 1361.1) rotate(-45) scale(1 1.03)" font-size="27.6" text-anchor="end" fill="#000" stroke="#000" stroke-width="0.3">Open</text>
</g>
<g>
<rect x="1478" y="979.3" width="97.1" height="39.7" fill="#D9D9D9" stroke="#333333" stroke-width="2"/>
<text transform="translate(1526.25 1006.57)" font-size="20.6" text-anchor="middle" fill="#1A1A1A" stroke="#1A1A1A" stroke-width="0.3">Fir</text>
<rect x="1478" y="1019" width="97.1" height="322.7" fill="#fff" stroke="none"/>
<path d="M1504.05 1052.7V1157.9M1504.05 1265.5V1327.4" stroke="#333333" stroke-width="2.2" fill="none"/>
<rect x="1487.5" y="1157.9" width="33.1" height="107.6" fill="#D55E00" stroke="#333333" stroke-width="2.2" stroke-linejoin="round"/>
<path d="M1487.5 1225.5H1520.6" stroke="#333333" stroke-width="4" fill="none"/>
<path d="M1548 1033.7V1059.5M1548 1124.7V1209.3" stroke="#333333" stroke-width="2.2" fill="none"/>
<rect x="1531.4" y="1059.5" width="33.2" height="65.2" fill="#E69F00" stroke="#333333" stroke-width="2.2" stroke-linejoin="round"/>
<path d="M1531.4 1063.5H1564.6" stroke="#333333" stroke-width="4" fill="none"/>
<circle cx="1548" cy="1289.5" r="5.3" fill="#333333"/>
<rect x="1478" y="1019" width="97.1" height="322.7" fill="none" stroke="#333333" stroke-width="2" stroke-linejoin="round"/>
<path d="M1471.9 1092.3H1478M1471.9 1171.8H1478M1471.9 1250.9H1478M1471.9 1330.4H1478M1503.7 1341.7V1348.5M1548 1341.7V1348.5" stroke="#333333" stroke-width="1.9" fill="none"/>
<text transform="translate(1465.6 1101.73) scale(1 1.03)" font-size="27.6" text-anchor="end" fill="#000" stroke="#000" stroke-width="0.3">0</text>
<text transform="translate(1467.9 1181.23) scale(1 1.03)" font-size="27.6" text-anchor="end" fill="#000" stroke="#000" stroke-width="0.3">−<tspan dx="-7.45">2</tspan></text>
<text transform="translate(1467.9 1260.33) scale(1 1.03)" font-size="27.6" text-anchor="end" fill="#000" stroke="#000" stroke-width="0.3">−<tspan dx="-7.45">4</tspan></text>
<text transform="translate(1467.9 1339.83) scale(1 1.03)" font-size="27.6" text-anchor="end" fill="#000" stroke="#000" stroke-width="0.3">−<tspan dx="-7.45">6</tspan></text>
<text transform="translate(1531 1361.1) rotate(-45) scale(1 1.03)" font-size="27.6" text-anchor="end" fill="#000" stroke="#000" stroke-width="0.3">Closed</text>
<text transform="translate(1573.1 1361.1) rotate(-45) scale(1 1.03)" font-size="27.6" text-anchor="end" fill="#000" stroke="#000" stroke-width="0.3">Open</text>
</g>
<g>
<rect x="1630.6" y="979.3" width="97" height="39.7" fill="#D9D9D9" stroke="#333333" stroke-width="2"/>
<text transform="translate(1678.8 1006.57)" font-size="20.6" text-anchor="middle" fill="#1A1A1A" stroke="#1A1A1A" stroke-width="0.3">Beech</text>
<rect x="1630.6" y="1019" width="97" height="322.7" fill="#fff" stroke="none"/>
<path d="M1656.45 1128.5V1183.9M1656.45 1242.5V1327.4" stroke="#333333" stroke-width="2.2" fill="none"/>
<rect x="1639.7" y="1183.9" width="33.5" height="58.6" fill="#D55E00" stroke="#333333" stroke-width="2.2" stroke-linejoin="round"/>
<path d="M1639.7 1222.8H1673.2" stroke="#333333" stroke-width="4" fill="none"/>
<circle cx="1656.45" cy="1049.6" r="5.3" fill="#333333"/>
<circle cx="1656.45" cy="1091.3" r="5.3" fill="#333333"/>
<path d="M1700.45 1033.7V1103.1M1700.45 1174.8V1278.7" stroke="#333333" stroke-width="2.2" fill="none"/>
<rect x="1683.7" y="1103.1" width="33.5" height="71.7" fill="#E69F00" stroke="#333333" stroke-width="2.2" stroke-linejoin="round"/>
<path d="M1683.7 1145H1717.2" stroke="#333333" stroke-width="4" fill="none"/>
<rect x="1630.6" y="1019" width="97" height="322.7" fill="none" stroke="#333333" stroke-width="2" stroke-linejoin="round"/>
<path d="M1624.5 1085.2H1630.6M1624.5 1158.6H1630.6M1624.5 1232H1630.6M1624.5 1305H1630.6M1656.6 1341.7V1348.5M1700.2 1341.7V1348.5" stroke="#333333" stroke-width="1.9" fill="none"/>
<text transform="translate(1618.2 1094.63) scale(1 1.03)" font-size="27.6" text-anchor="end" fill="#000" stroke="#000" stroke-width="0.3">1</text>
<text transform="translate(1618.2 1168.03) scale(1 1.03)" font-size="27.6" text-anchor="end" fill="#000" stroke="#000" stroke-width="0.3">0</text>
<text transform="translate(1620.5 1241.43) scale(1 1.03)" font-size="27.6" text-anchor="end" fill="#000" stroke="#000" stroke-width="0.3">−<tspan dx="-6.35">1</tspan></text>
<text transform="translate(1620.5 1314.43) scale(1 1.03)" font-size="27.6" text-anchor="end" fill="#000" stroke="#000" stroke-width="0.3">−<tspan dx="-7.45">2</tspan></text>
<text transform="translate(1687.2 1361.1) rotate(-45) scale(1 1.03)" font-size="27.6" text-anchor="end" fill="#000" stroke="#000" stroke-width="0.3">Closed</text>
<text transform="translate(1729.8 1361.1) rotate(-45) scale(1 1.03)" font-size="27.6" text-anchor="end" fill="#000" stroke="#000" stroke-width="0.3">Open</text>
</g>
<g>
<rect x="1783.1" y="979.3" width="97.2" height="39.7" fill="#D9D9D9" stroke="#333333" stroke-width="2"/>
<text transform="translate(1831.4 1006.57)" font-size="20.6" text-anchor="middle" fill="#1A1A1A" stroke="#1A1A1A" stroke-width="0.3">Fir</text>
<rect x="1783.1" y="1019" width="97.2" height="322.7" fill="#fff" stroke="none"/>
<path d="M1809.15 1033.7V1150.1M1809.15 1229.6V1327.4" stroke="#333333" stroke-width="2.2" fill="none"/>
<rect x="1792.6" y="1150.1" width="33.1" height="79.5" fill="#D55E00" stroke="#333333" stroke-width="2.2" stroke-linejoin="round"/>
<path d="M1792.6 1177.2H1825.7" stroke="#333333" stroke-width="4" fill="none"/>
<path d="M1853.15 1043.2V1074M1853.15 1172.8V1223.9" stroke="#333333" stroke-width="2.2" fill="none"/>
<rect x="1836.6" y="1074" width="33.1" height="98.8" fill="#E69F00" stroke="#333333" stroke-width="2.2" stroke-linejoin="round"/>
<path d="M1836.6 1095.3H1869.7" stroke="#333333" stroke-width="4" fill="none"/>
<rect x="1783.1" y="1019" width="97.2" height="322.7" fill="none" stroke="#333333" stroke-width="2" stroke-linejoin="round"/>
<path d="M1777 1042.9H1783.1M1777 1115.9H1783.1M1777 1189H1783.1M1777 1262.1H1783.1M1777 1334.8H1783.1M1809.2 1341.7V1348.5M1853.1 1341.7V1348.5" stroke="#333333" stroke-width="1.9" fill="none"/>
<text transform="translate(1770.7 1052.33) scale(1 1.03)" font-size="27.6" text-anchor="end" fill="#000" stroke="#000" stroke-width="0.3">2</text>
<text transform="translate(1770.7 1125.33) scale(1 1.03)" font-size="27.6" text-anchor="end" fill="#000" stroke="#000" stroke-width="0.3">1</text>
<text transform="translate(1770.7 1198.43) scale(1 1.03)" font-size="27.6" text-anchor="end" fill="#000" stroke="#000" stroke-width="0.3">0</text>
<text transform="translate(1773 1271.53) scale(1 1.03)" font-size="27.6" text-anchor="end" fill="#000" stroke="#000" stroke-width="0.3">−<tspan dx="-6.35">1</tspan></text>
<text transform="translate(1773 1344.23) scale(1 1.03)" font-size="27.6" text-anchor="end" fill="#000" stroke="#000" stroke-width="0.3">−<tspan dx="-7.45">2</tspan></text>
<text transform="translate(1830.6 1361.1) rotate(-45) scale(1 1.03)" font-size="27.6" text-anchor="end" fill="#000" stroke="#000" stroke-width="0.3">Closed</text>
<text transform="translate(1872.4 1361.1) rotate(-45) scale(1 1.03)" font-size="27.6" text-anchor="end" fill="#000" stroke="#000" stroke-width="0.3">Open</text>
</g>
</g>
<text transform="translate(961 27)" font-size="27" text-anchor="middle" textLength="122" lengthAdjust="spacing" fill="#000" stroke="#000" stroke-width="0.3">Fruit body</text>
<text transform="translate(354.8 66.1)" font-size="27.9" text-anchor="middle" textLength="58" lengthAdjust="spacing" fill="#000" stroke="#000" stroke-width="0.3">Size</text>
<text transform="translate(965.5 66.1)" font-size="27.9" text-anchor="middle" textLength="126" lengthAdjust="spacing" fill="#000" stroke="#000" stroke-width="0.3">Lightness</text>
<text transform="translate(1586 66.1)" font-size="27.9" text-anchor="middle" textLength="144" lengthAdjust="spacing" fill="#000" stroke="#000" stroke-width="0.3">Toughness</text>
<text transform="translate(60.2 90.7) scale(1 1.03)" font-size="28.5" text-anchor="start" font-weight="bold" fill="#000">A</text>
<text transform="translate(61 544.5) scale(1 1.03)" font-size="28.5" text-anchor="start" font-weight="bold" fill="#000">B</text>
<text transform="translate(61.3 998.5) scale(0.95 1.03)" font-size="28.5" text-anchor="start" font-weight="bold" fill="#000">C</text>
<text transform="translate(28.6 749.6) rotate(-90)" font-size="25.8" text-anchor="middle" textLength="472.5" lengthAdjust="spacing" fill="#000" stroke="#000" stroke-width="0.3">Standardized (SES) Community trait</text>
</g>
</svg>
</body>
</html>
